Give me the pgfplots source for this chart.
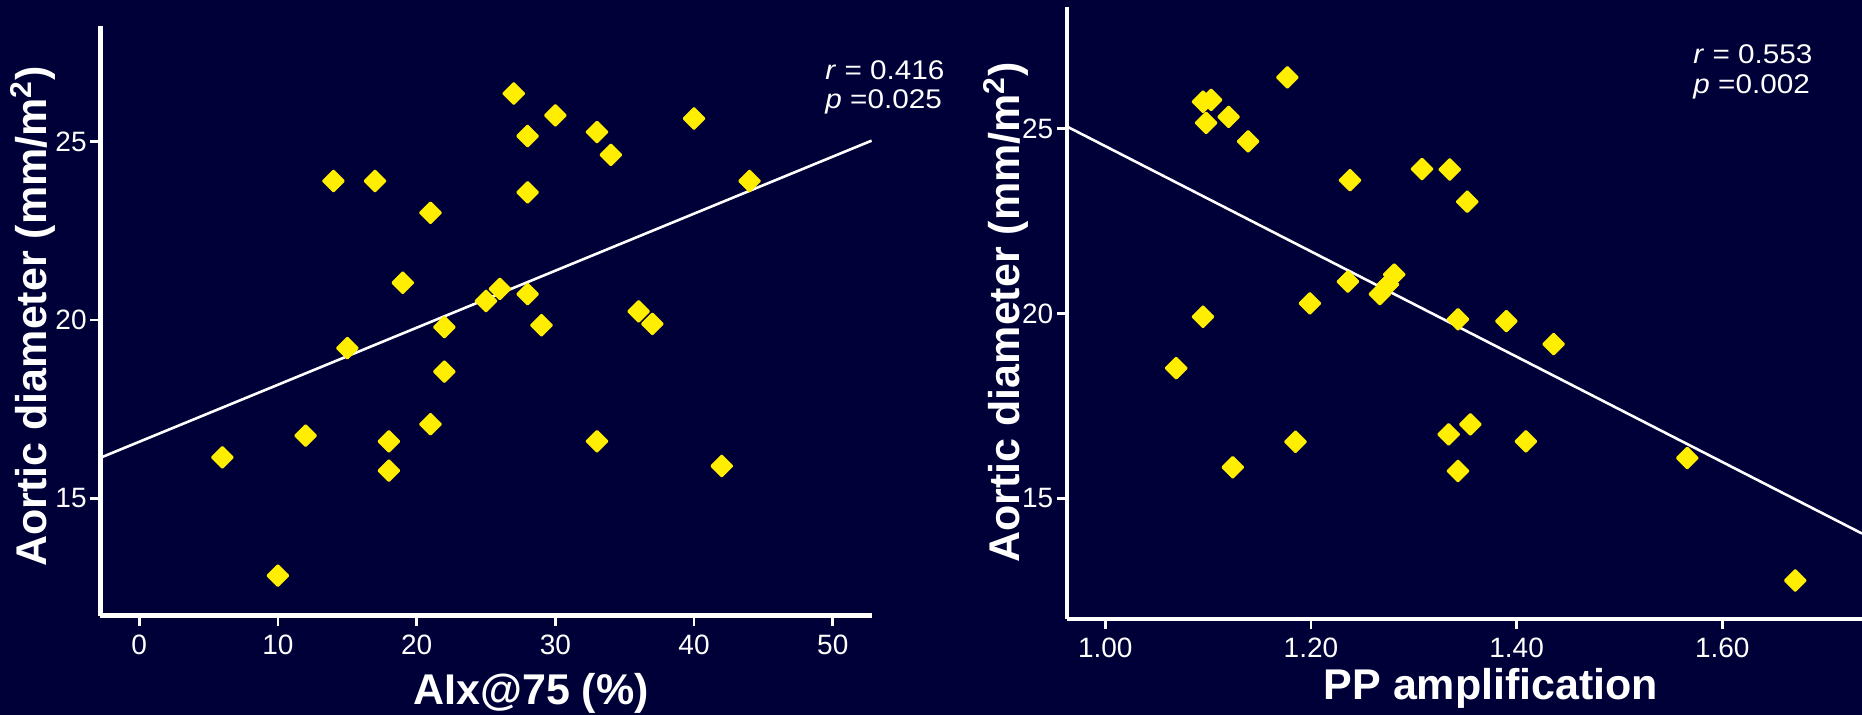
\documentclass[border=0pt]{standalone}
\usepackage{pgfplots}
\pgfplotsset{compat=1.18}
\usepackage{fontspec}
\setmainfont{Liberation Sans}
\definecolor{bg}{RGB}{0,0,56}
\definecolor{ptyel}{RGB}{255,238,0}

\pgfplotstableread{
x y
27 26.34
30 25.73
40 25.64
28 25.15
33 25.26
34 24.62
14 23.89
17 23.89
28 23.57
44 23.89
21 23.00
19 21.04
26 20.87
25 20.53
28 20.72
36 20.24
37 19.89
29 19.85
22 19.80
15 19.21
22 18.55
21 17.08
12 16.76
18 16.60
33 16.60
6 16.15
18 15.78
42 15.91
10 12.84
}\dataA

\pgfplotstableread{
x y
1.177 26.38
1.095 25.72
1.103 25.77
1.098 25.15
1.120 25.31
1.139 24.65
1.238 23.60
1.308 23.90
1.335 23.89
1.352 23.02
1.281 21.05
1.236 20.86
1.275 20.78
1.267 20.52
1.199 20.27
1.095 19.91
1.343 19.84
1.390 19.79
1.436 19.17
1.069 18.52
1.355 17.00
1.334 16.73
1.185 16.53
1.409 16.54
1.124 15.84
1.343 15.74
1.566 16.09
1.671 12.78
}\dataB

\pgfplotsset{
  myax/.style={
    scale only axis,
    axis x line*=bottom, axis y line*=left,
    axis line style={white, line width=2.4pt},
    tick align=outside,
    major tick length=5pt,
    tick style={white, line width=1.3pt},
    ticklabel style={white, font=\fontsize{14}{14}\selectfont},
    xticklabel style={anchor=base, inner sep=0pt, yshift=-14.3pt},
    yticklabel style={anchor=east, inner sep=0pt, xshift=-1.7pt},
    label style={white, font=\bfseries\fontsize{21.5}{21.5}\selectfont},
    xlabel style={anchor=base},
    ylabel style={anchor=base},
    minor tick num=0,
    clip=false,
  },
  mymark/.style={only marks, mark=square*, mark size=3.6pt,
    mark options={rotate=45, fill=ptyel, draw=ptyel, line width=1.2pt, line join=round}},
}
\tikzset{rp/.style={anchor=base west, text=white, inner sep=0pt, font=\fontsize{13.5}{13.5}\selectfont}}

\begin{document}
\begin{tikzpicture}
\path[use as bounding box, fill=bg] (0,0) rectangle (931pt,357.5pt);

\begin{axis}[myax,
  at={(50.2pt,49.7pt)}, anchor=south west,
  width=385.6pt, height=294.6pt,
  xmin=-2.8, xmax=52.8, ymin=11.72, ymax=28.22,
  xtick={0,10,20,30,40,50}, xticklabels={0,10,20,30,40,50},
  ytick={15,20,25}, yticklabels={15,20,25},
  xlabel={AIx@75 (\%)},
  ylabel={Aortic diameter (mm/m\textsuperscript{2})},
  xlabel style={at={(axis description cs:0.5584,-0.1517)}},
  ylabel style={at={(axis description cs:-0.0693,0.508)}},
]
\addplot[white, line width=1.3pt] coordinates {(-2.8,16.14) (52.8,25.02)};
\addplot[mymark] table {\dataA};
\end{axis}

\begin{axis}[myax,
  at={(533.5pt,48pt)}, anchor=south west,
  width=397.5pt, height=306.15pt,
  xmin=0.9628, xmax=1.7359, ymin=11.74, ymax=28.29,
  xtick={1,1.2,1.4,1.6}, xticklabels={1.00,1.20,1.40,1.60},
  ytick={15,20,25}, yticklabels={15,20,25},
  xlabel={PP amplification},
  ylabel={Aortic diameter (mm/m\textsuperscript{2})},
  xlabel style={at={(axis description cs:0.5333,-0.1323)}},
  ylabel style={at={(axis description cs:-0.0600,0.501)}},
]
\addplot[white, line width=1.3pt] coordinates {(0.9628,25.05) (1.7359,14.05)};
\addplot[mymark] table {\dataB};
\end{axis}

\node[rp] at (412.5pt,317.9pt) {\scalebox{1.1}[1]{\textit{r} = 0.416}};
\node[rp] at (412.5pt,303.4pt) {\scalebox{1.1}[1]{\textit{p} =0.025}};
\node[rp] at (846.5pt,325.9pt) {\scalebox{1.1}[1]{\textit{r} = 0.553}};
\node[rp] at (846.5pt,310.9pt) {\scalebox{1.1}[1]{\textit{p} =0.002}};
\end{tikzpicture}
\end{document}
